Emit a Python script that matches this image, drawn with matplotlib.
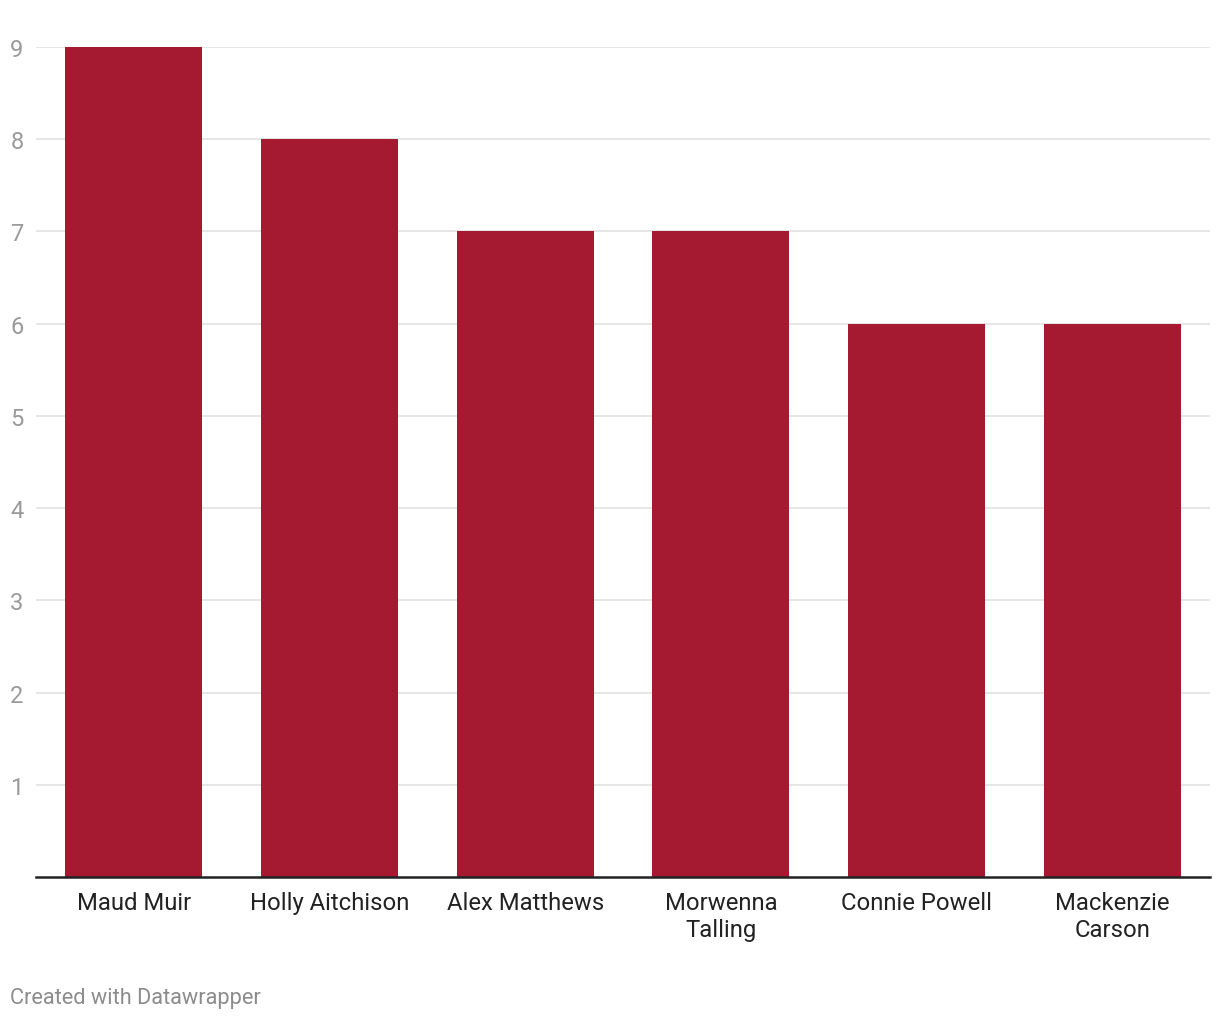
import matplotlib
matplotlib.use("Agg")
import matplotlib.pyplot as plt

players = ["Maud Muir", "Holly Aitchison", "Alex Matthews", "Morwenna\nTalling",
           "Connie Powell", "Mackenzie\nCarson"]
values = [9, 8, 7, 7, 6, 6]
yticks = [1, 2, 3, 4, 5, 6, 7, 8, 9]

plt.rcParams['font.family'] = ['Roboto', 'DejaVu Sans']

fig = plt.figure(figsize=(12.2, 10.2), dpi=100)
ax = fig.add_axes([36/1220, 142/1020, 1174/1220, 830/1020])

x = list(range(len(players)))
ax.bar(x, values, width=0.70, color="#A51931", zorder=2)

ax.set_xlim(-0.5, len(players) - 0.5)
ax.set_ylim(0, 9)

ax.set_yticks(yticks)
ax.set_yticklabels([str(v) for v in yticks], fontsize=17, color="#9a9a9a")
ax.tick_params(axis='y', length=0, pad=9)
ax.yaxis.grid(True, color="#e2e2e2", linewidth=1.2, zorder=0)

ax.set_xticks(x)
ax.set_xticklabels(players, fontsize=17.2, color="#222222", linespacing=1.25)
ax.tick_params(axis='x', length=0, pad=10)

for s in ['top', 'right', 'left']:
    ax.spines[s].set_visible(False)
ax.spines['bottom'].set_color("#222222")
ax.spines['bottom'].set_linewidth(1.8)
ax.spines['bottom'].set_zorder(3)

fig.text(10/1220, 1 - 999/1020, "Created with Datawrapper", fontsize=15.7,
         color="#8c8c8c", ha='left', va='center')

fig.savefig("out.png", dpi=100, facecolor="white")
